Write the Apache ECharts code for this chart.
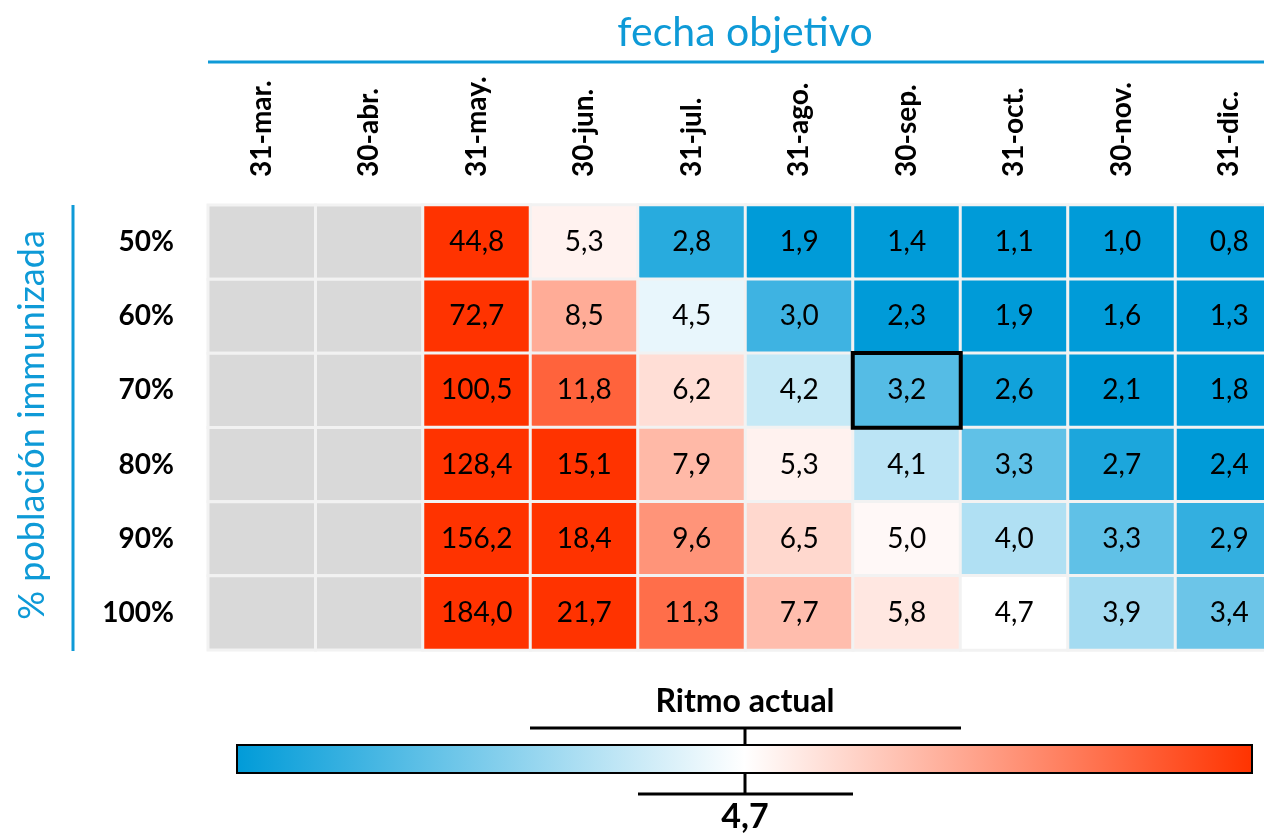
<!DOCTYPE html>
<html><head><meta charset="utf-8">
<script src="https://cdn.jsdelivr.net/npm/echarts@6/dist/echarts.min.js"></script>
<style>html,body{margin:0;padding:0;background:#fff}#chart{width:1264px;height:839px}</style>
</head><body><div id="chart"></div>
<script>
// ---- data ----
const fechas = ['31-mar.','30-abr.','31-may.','30-jun.','31-jul.','31-ago.','30-sep.','31-oct.','30-nov.','31-dic.'];
const poblacion = ['50%','60%','70%','80%','90%','100%'];
const ritmo50  = [null, null, 44.8,  5.3,  2.8, 1.9, 1.4, 1.1, 1.0, 0.8];
const ritmo60  = [null, null, 72.7,  8.5,  4.5, 3.0, 2.3, 1.9, 1.6, 1.3];
const ritmo70  = [null, null, 100.5, 11.8, 6.2, 4.2, 3.2, 2.6, 2.1, 1.8];
const ritmo80  = [null, null, 128.4, 15.1, 7.9, 5.3, 4.1, 3.3, 2.7, 2.4];
const ritmo90  = [null, null, 156.2, 18.4, 9.6, 6.5, 5.0, 4.0, 3.3, 2.9];
const ritmo100 = [null, null, 184.0, 21.7, 11.3, 7.7, 5.8, 4.7, 3.9, 3.4];
const ritmoActual = 4.7;
const destacado = ['30-sep.', '70%'];

// ---- colour scale (blue - white at current pace - red) ----
const BLUE = [0, 155, 216], RED = [255, 51, 0], WHITE = [255, 255, 255];
const BLUE_SAT = 2.45, RED_SAT = 14;
function mix(a, b, t) {
  return 'rgb(' + a.map((c, i) => Math.round(c + (b[i] - c) * t)).join(',') + ')';
}
function cellColor(v) {
  if (v <= ritmoActual) {
    const t = Math.min(1, Math.max(0, (ritmoActual - v) / (ritmoActual - BLUE_SAT)));
    return mix(WHITE, BLUE, t);
  }
  const t = Math.min(1, Math.max(0, (v - ritmoActual) / (RED_SAT - ritmoActual)));
  return mix(WHITE, RED, t);
}
const fmt = v => v.toFixed(1).replace('.', ',');

const filas = [ritmo50, ritmo60, ritmo70, ritmo80, ritmo90, ritmo100];
const heatData = [], emptyData = [];
let highlightItem = null;
filas.forEach((fila, yi) => {
  fila.forEach((v, xi) => {
    if (v === null) { emptyData.push([xi, yi]); return; }
    const item = { value: [xi, yi, v], itemStyle: { color: cellColor(v) } };
    if (fechas[xi] === destacado[0] && poblacion[yi] === destacado[1]) {
      item.itemStyle.borderColor = '#000';
      item.itemStyle.borderWidth = 4;
      highlightItem = item;
    } else heatData.push(item);
  });
});
if (highlightItem) heatData.push(highlightItem);

const AZUL = '#0e9ad7';
const FONT = 'Lato';

const chart = echarts.init(document.getElementById('chart'));
chart.setOption({
  animation: false,
  backgroundColor: '#fff',
  grid: { left: 208, top: 205, width: 1075, height: 445, outerBoundsMode: 'none', containLabel: false },
  xAxis: {
    type: 'category', position: 'top', data: fechas,
    axisLine: { show: false }, axisTick: { show: false }, splitLine: { show: false },
    axisLabel: { interval: 0, rotate: -90, margin: 28, color: '#000', fontFamily: FONT, fontWeight: 'bold', fontSize: 28 }
  },
  yAxis: {
    type: 'category', data: poblacion, inverse: true,
    axisLine: { show: false }, axisTick: { show: false }, splitLine: { show: false },
    axisLabel: { margin: 34, color: '#000', fontFamily: FONT, fontWeight: 'bold', fontSize: 28 }
  },
  series: [
    {
      type: 'custom', name: 'sin dato', data: emptyData, silent: true,
      renderItem: function (params, api) {
        const c = api.coord([api.value(0), api.value(1)]);
        const s = api.size([1, 1]);
        return { type: 'rect', shape: { x: c[0] - s[0] / 2, y: c[1] - s[1] / 2, width: s[0], height: s[1] },
                 style: { fill: '#d9d9d9', stroke: '#f2f2f2', lineWidth: 3 } };
      }
    },
    {
      type: 'heatmap', data: heatData,
      itemStyle: { borderColor: '#f2f2f2', borderWidth: 3 },
      label: { show: true, formatter: p => fmt(p.value[2]), color: '#000', fontFamily: FONT, fontSize: 28 },
      emphasis: { disabled: true }
    }
  ],
  graphic: [
    { type: 'text', x: 745, y: 33, style: { text: 'fecha objetivo', fill: AZUL, font: '41px ' + FONT, align: 'center', verticalAlign: 'middle' } },
    { type: 'line', shape: { x1: 208, y1: 62, x2: 1264, y2: 62 }, style: { stroke: AZUL, lineWidth: 3 } },
    { type: 'text', x: 32, y: 425, rotation: Math.PI / 2, style: { text: '% población immunizada', fill: AZUL, font: '36px ' + FONT, align: 'center', verticalAlign: 'middle' } },
    { type: 'line', shape: { x1: 73, y1: 205, x2: 73, y2: 651 }, style: { stroke: AZUL, lineWidth: 3 } },
    { type: 'text', x: 745, y: 702, style: { text: 'Ritmo actual', fill: '#000', font: 'bold 32px ' + FONT, align: 'center', verticalAlign: 'middle' } },
    { type: 'line', shape: { x1: 530, y1: 728, x2: 961, y2: 728 }, style: { stroke: '#000', lineWidth: 3 } },
    { type: 'line', shape: { x1: 745, y1: 728, x2: 745, y2: 745 }, style: { stroke: '#000', lineWidth: 3 } },
    { type: 'rect', shape: { x: 237, y: 745, width: 1015, height: 28 },
      style: { fill: new echarts.graphic.LinearGradient(0, 0, 1, 0, [
        { offset: 0, color: 'rgb(0,155,216)' }, { offset: 0.5, color: '#ffffff' }, { offset: 1, color: 'rgb(255,51,0)' }]),
        stroke: '#000', lineWidth: 2 } },
    { type: 'line', shape: { x1: 745, y1: 773, x2: 745, y2: 794 }, style: { stroke: '#000', lineWidth: 3 } },
    { type: 'line', shape: { x1: 638, y1: 794, x2: 853, y2: 794 }, style: { stroke: '#000', lineWidth: 3 } },
    { type: 'text', x: 745, y: 817, style: { text: fmt(ritmoActual), fill: '#000', font: 'bold 34px ' + FONT, align: 'center', verticalAlign: 'middle' } }
  ]
});
</script>
</body></html>
